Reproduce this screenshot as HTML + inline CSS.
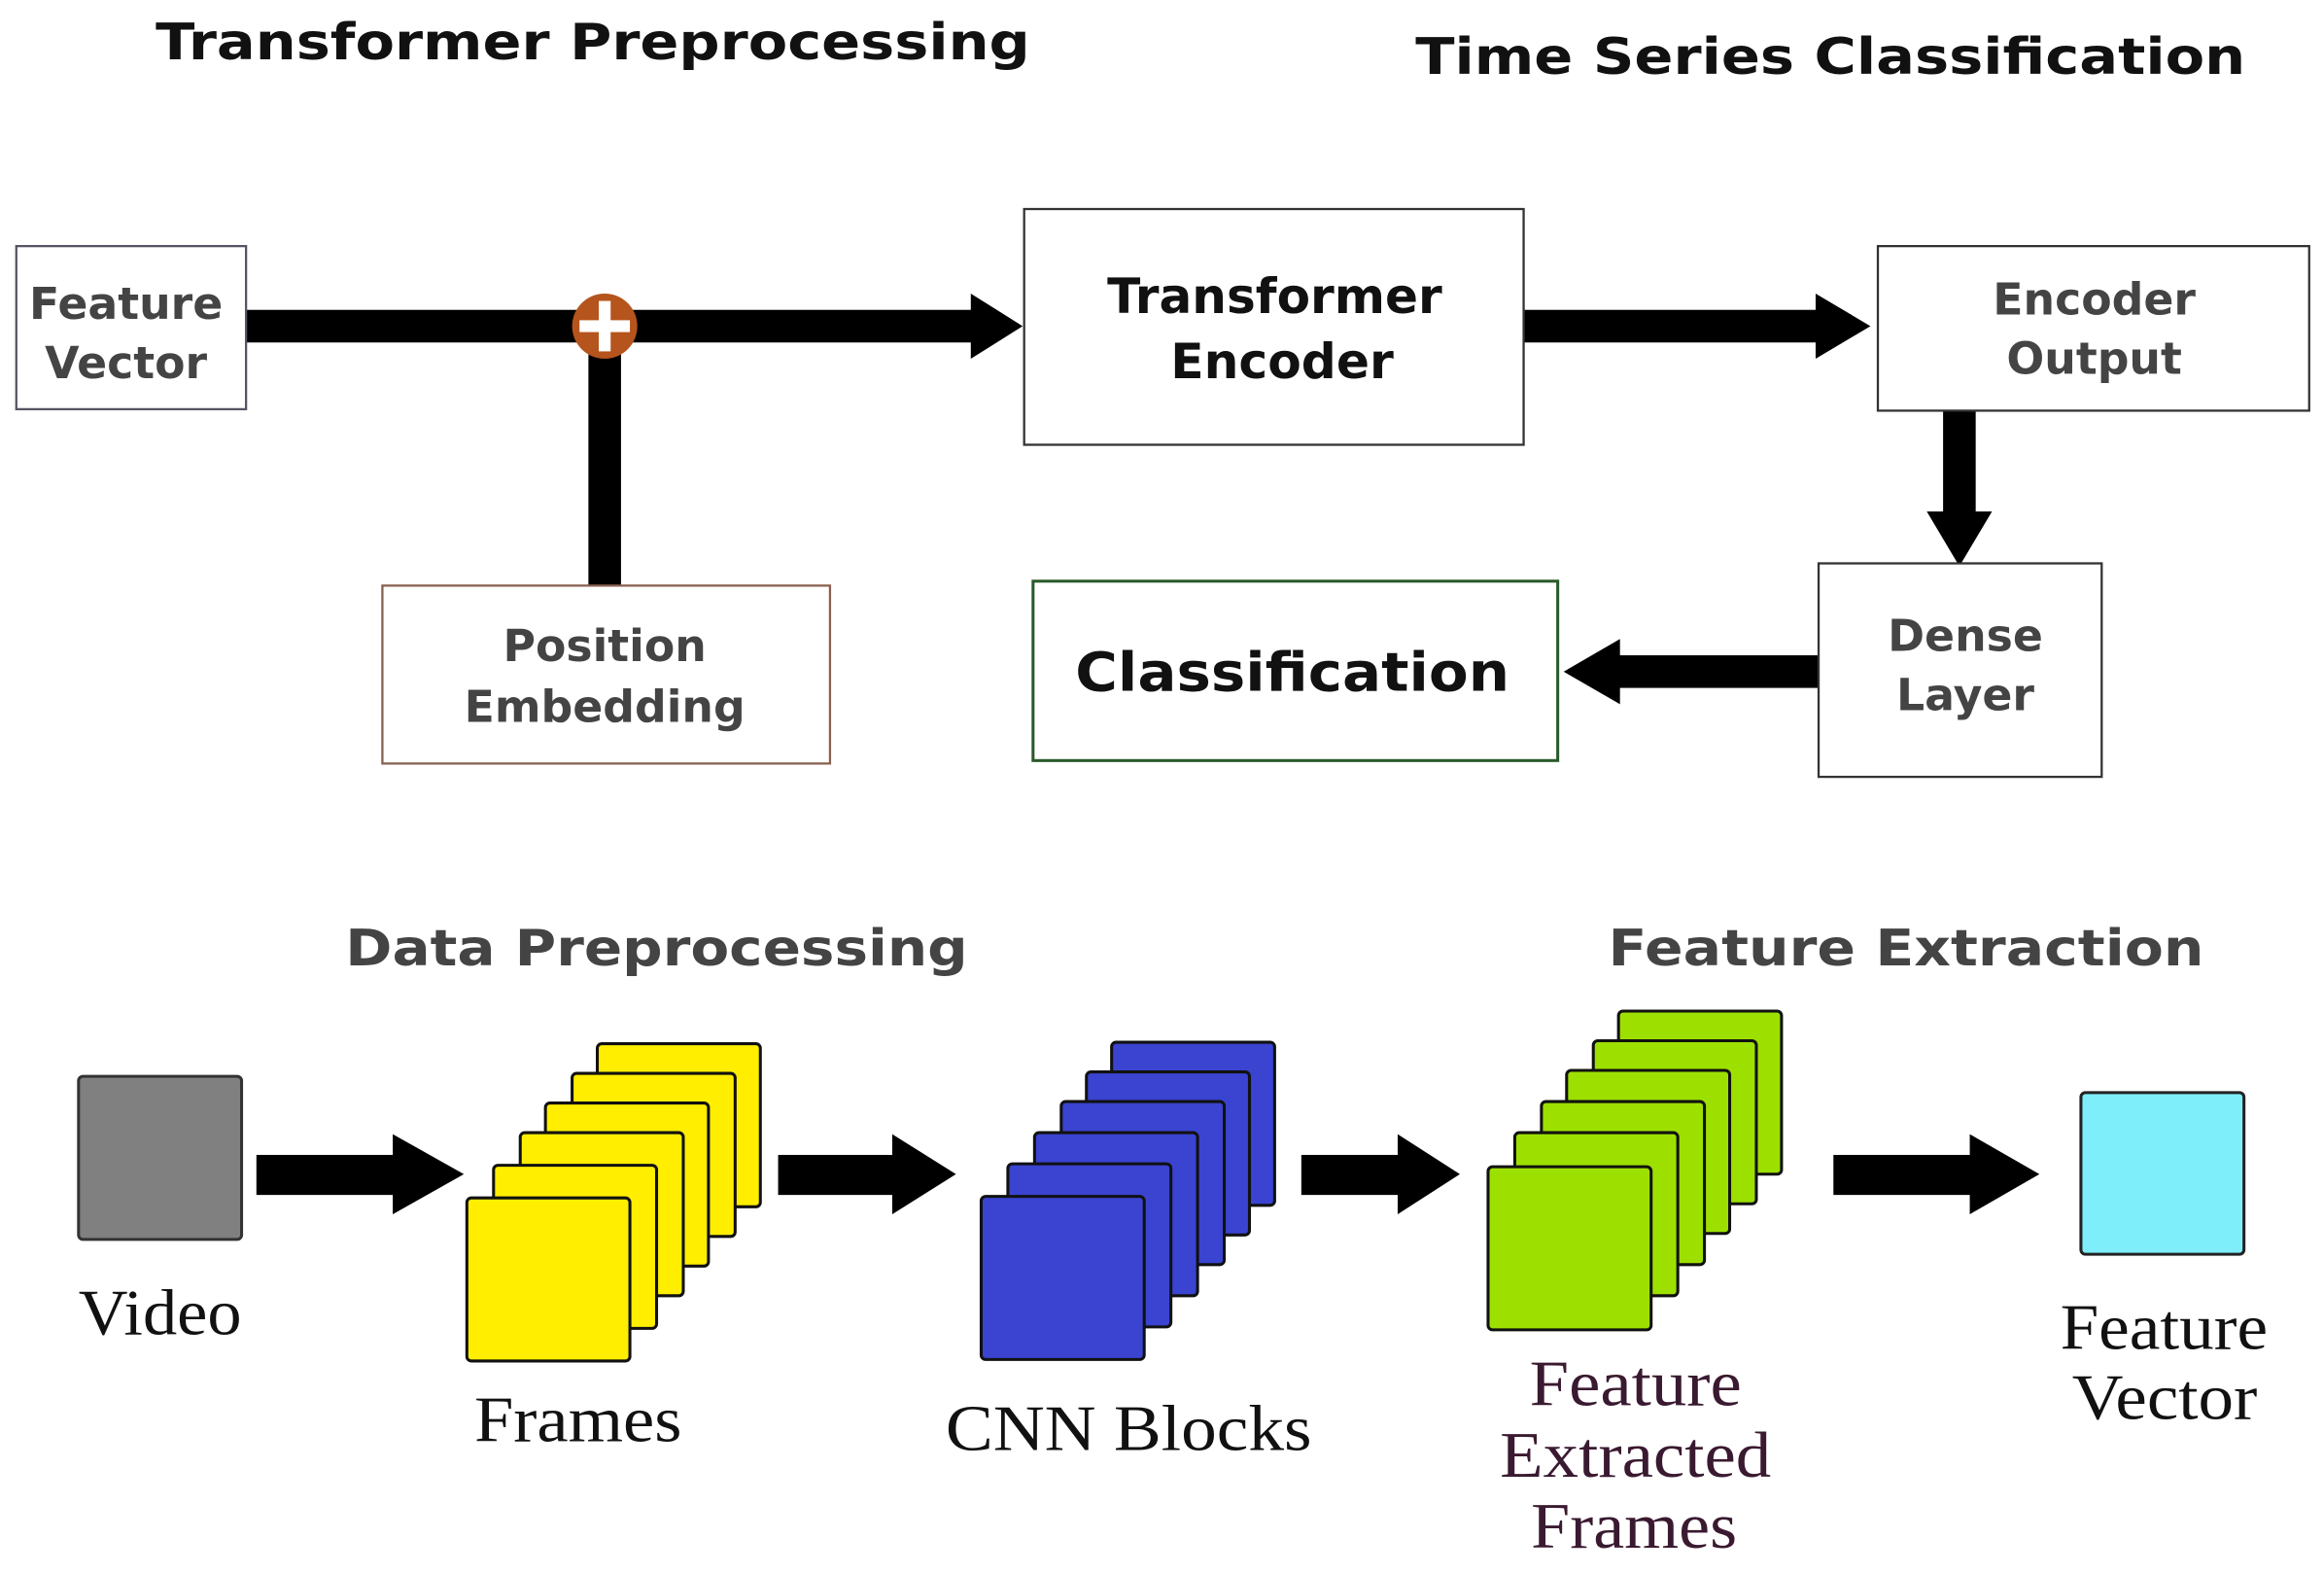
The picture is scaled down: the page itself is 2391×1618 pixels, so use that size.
<!DOCTYPE html>
<html><head><meta charset="utf-8"><style>html,body{margin:0;padding:0;background:#fff}svg{display:block}</style></head>
<body>
<svg width="2391" height="1618" viewBox="0 0 1568 1061" preserveAspectRatio="none" xmlns="http://www.w3.org/2000/svg">
<defs>
<g id="sq"><rect x="0" y="0" width="110" height="110" rx="3" stroke="#111" stroke-width="2"/></g>
</defs>
<g font-family="'DejaVu Sans','Liberation Sans',sans-serif" font-weight="bold" lengthAdjust="spacingAndGlyphs">
<text x="105" y="40" font-size="34" fill="#111" textLength="590" lengthAdjust="spacingAndGlyphs">Transformer Preprocessing</text>
<text x="955" y="50" font-size="34" fill="#111" textLength="560" lengthAdjust="spacingAndGlyphs">Time Series Classification</text>
<text x="233" y="651" font-size="34" fill="#444" textLength="420" lengthAdjust="spacingAndGlyphs">Data Preprocessing</text>
<text x="1085" y="651" font-size="34" fill="#444" textLength="402" lengthAdjust="spacingAndGlyphs">Feature Extraction</text>
</g>
<rect x="166" y="209" width="492" height="22" fill="#000"/>
<polygon points="655,198 690,220 655,242" fill="#000"/>
<rect x="397" y="220" width="22" height="175" fill="#000"/>
<circle cx="408" cy="220" r="22" fill="#b5541c"/>
<rect x="404" y="203" width="8" height="34" fill="#fff"/>
<rect x="391" y="216" width="34" height="8" fill="#fff"/>
<rect x="1028" y="209" width="200" height="22" fill="#000"/>
<polygon points="1225,198 1262,220 1225,242" fill="#000"/>
<rect x="1311" y="277" width="22" height="70" fill="#000"/>
<polygon points="1300,345 1344,345 1322,382" fill="#000"/>
<rect x="1090" y="442" width="137" height="22" fill="#000"/>
<polygon points="1093,431 1093,475 1055,453" fill="#000"/>
<g fill="#fff" stroke-width="1.5">
<rect x="11" y="166" width="155" height="110" stroke="#556"/>
<rect x="258" y="395" width="302" height="120" stroke="#8a6050"/>
<rect x="691" y="141" width="337" height="159" stroke="#333"/>
<rect x="1267" y="166" width="291" height="111" stroke="#333"/>
<rect x="1227" y="380" width="191" height="144" stroke="#333"/>
<rect x="697" y="392" width="354" height="121" stroke="#2a5a2a" stroke-width="2"/>
</g>
<g font-family="'DejaVu Sans','Liberation Sans',sans-serif" font-weight="bold" text-anchor="middle" font-size="30">
<text x="85" y="215" fill="#444">Feature</text><text x="85" y="255" fill="#444">Vector</text>
<text x="408" y="446" fill="#444">Position</text><text x="408" y="487" fill="#444">Embedding</text>
<text x="860" y="211" font-size="33" fill="#111" textLength="226" lengthAdjust="spacingAndGlyphs">Transformer</text><text x="865" y="255" font-size="33" fill="#111">Encoder</text>
<text x="1413" y="212" fill="#444">Encoder</text><text x="1413" y="252" fill="#444">Output</text>
<text x="1326" y="439" fill="#444">Dense</text><text x="1326" y="479" fill="#444">Layer</text>
<text x="872" y="466" font-size="36" fill="#111" textLength="293" lengthAdjust="spacingAndGlyphs">Classification</text>
</g>
<g fill="#000">
<rect x="173" y="779" width="95" height="27"/><polygon points="265,765 313,792 265,819"/>
<rect x="525" y="779" width="80" height="27"/><polygon points="602,765 645,792 602,819"/>
<rect x="878" y="779" width="68" height="27"/><polygon points="943,765 985,792 943,819"/>
<rect x="1237" y="779" width="95" height="27"/><polygon points="1329,765 1376,792 1329,819"/>
</g>
<rect x="53" y="726" width="110" height="110" rx="3" fill="#808080" stroke="#333" stroke-width="2"/>
<g fill="#ffee00">
<use href="#sq" x="403" y="704"/><use href="#sq" x="386" y="724"/><use href="#sq" x="368" y="744"/><use href="#sq" x="351" y="764"/><use href="#sq" x="333" y="786"/><use href="#sq" x="315" y="808"/>
</g>
<g fill="#3a44d0">
<use href="#sq" x="750" y="703"/><use href="#sq" x="733" y="723"/><use href="#sq" x="716" y="743"/><use href="#sq" x="698" y="764"/><use href="#sq" x="680" y="785"/><use href="#sq" x="662" y="807"/>
</g>
<g fill="#9de000">
<use href="#sq" x="1092" y="682"/><use href="#sq" x="1075" y="702"/><use href="#sq" x="1057" y="722"/><use href="#sq" x="1040" y="743"/><use href="#sq" x="1022" y="764"/><use href="#sq" x="1004" y="787"/>
</g>
<rect x="1404" y="737" width="110" height="109" rx="3" fill="#7eeefa" stroke="#222" stroke-width="2"/>
<g font-family="'Liberation Serif',serif" font-size="44" fill="#111">
<text x="53" y="900" textLength="110" lengthAdjust="spacingAndGlyphs">Video</text>
<text x="320" y="972" textLength="140" lengthAdjust="spacingAndGlyphs">Frames</text>
<text x="638" y="978" textLength="247" lengthAdjust="spacingAndGlyphs">CNN Blocks</text>
<text x="1032" y="948" fill="#3a1a30" textLength="143" lengthAdjust="spacingAndGlyphs">Feature</text>
<text x="1012" y="996" fill="#3a1a30" textLength="183" lengthAdjust="spacingAndGlyphs">Extracted</text>
<text x="1033" y="1044" fill="#3a1a30" textLength="139" lengthAdjust="spacingAndGlyphs">Frames</text>
<text x="1390" y="910" textLength="140" lengthAdjust="spacingAndGlyphs">Feature</text>
<text x="1398" y="957" textLength="125" lengthAdjust="spacingAndGlyphs">Vector</text>
</g>
</svg>
</body></html>
